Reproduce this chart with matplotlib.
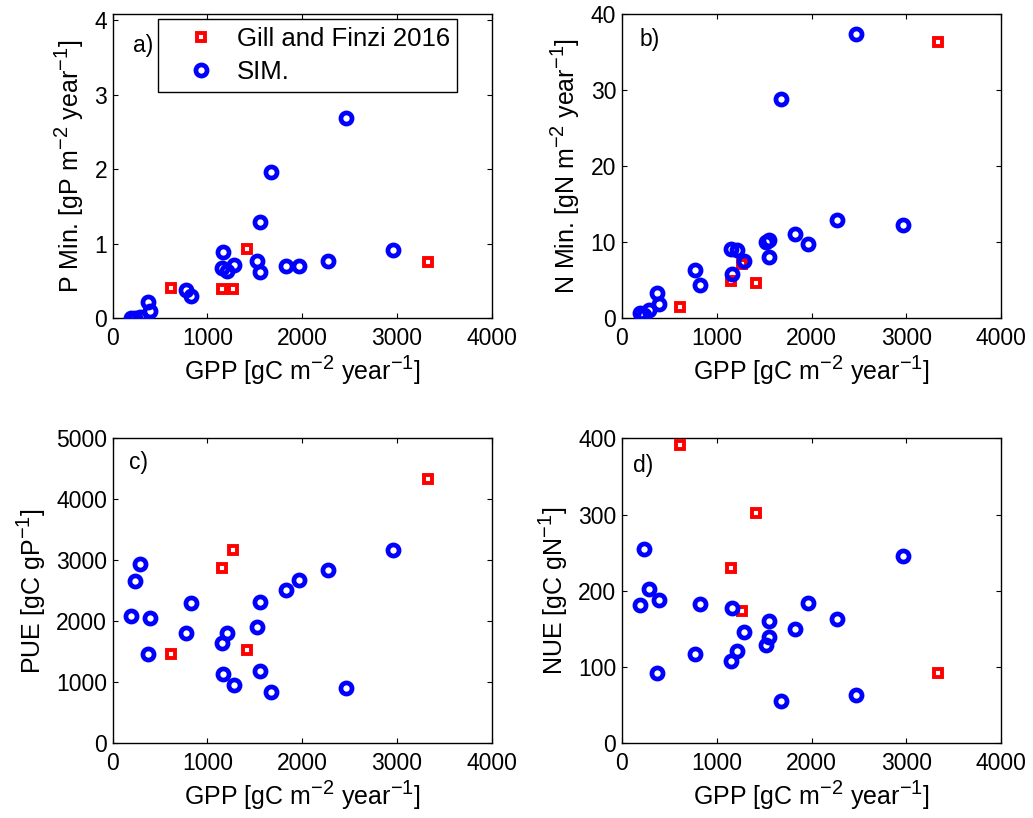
import matplotlib
matplotlib.use("Agg")
import matplotlib.pyplot as plt

try:
    import matplotlib._mathtext as _mt
    _mt.SHRINK_FACTOR = 0.8
except Exception:
    pass

plt.rcParams['font.family'] = ['Liberation Sans', 'DejaVu Sans']
plt.rcParams['mathtext.fontset'] = 'custom'
plt.rcParams['mathtext.rm'] = 'Liberation Sans'
plt.rcParams['mathtext.it'] = 'Liberation Sans:italic'
plt.rcParams['mathtext.bf'] = 'Liberation Sans:bold'

# ---- data: simulation (SIM.) ----
sim_gpp = [190, 232, 283, 370, 394, 770, 825, 1152, 1160, 1210, 1285,
           1520, 1550, 1550, 1675, 1826, 1965, 2270, 2466, 2960]
sim_pmin = [0.0, 0.01, 0.02, 0.215, 0.10, 0.38, 0.30, 0.68, 0.89, 0.635, 0.71,
            0.774, 0.626, 1.29, 1.955, 0.70, 0.705, 0.77, 2.69, 0.91]
sim_nmin = [0.66, 0.44, 1.1, 3.38, 1.89, 6.37, 4.40, 9.1, 5.8, 8.92, 7.56,
            10.02, 10.33, 8.09, 28.8, 11.12, 9.76, 12.92, 37.4, 12.3]
sim_pue = [2093, 2661, 2945, 1459, 2060, 1803, 2295, 1639, 1137, 1809, 962,
           1913, 2317, 1191, 836, 2514, 2678, 2836, 907, 3164]
sim_nue = [182, 255, 202, 92, 188, 117, 183, 108, 177, 121, 146,
           129, 161, 139, 55.5, 150, 184.5, 163, 64, 245]

# ---- data: Gill and Finzi 2016 ----
obs_gpp = [615, 1155, 1272, 1416, 3330]
obs_pmin = [0.41, 0.39, 0.39, 0.926, 0.756]
obs_nmin = [1.54, 4.84, 7.16, 4.62, 36.26]
obs_pue = [1459, 2880, 3164, 1525, 4328]
obs_nue = [391, 230, 174, 302, 92]

panel_letters = ['a)', 'b)', 'c)', 'd)']
ylabels = ['P Min. [gP m$^{-2}$ year$^{-1}$]',
           'N Min. [gN m$^{-2}$ year$^{-1}$]',
           'PUE [gC gP$^{-1}$]',
           'NUE [gC gN$^{-1}$]']
xlabel = 'GPP [gC m$^{-2}$ year$^{-1}$]'
ylims = [(0, 4.08), (0, 40), (0, 5000), (0, 400)]
yticks = [[0, 1, 2, 3, 4], [0, 10, 20, 30, 40],
          [0, 1000, 2000, 3000, 4000, 5000], [0, 100, 200, 300, 400]]
xticks = [0, 1000, 2000, 3000, 4000]

W, H = 1033, 818
fig = plt.figure(figsize=(W / 100, H / 100), dpi=100)

def rect(l, r, t, b):
    return [l / W, (H - b) / H, (r - l) / W, (b - t) / H]

rects = [rect(112.7, 491.7, 14, 318.3), rect(621.7, 1001.3, 14, 318.3),
         rect(112.7, 491.7, 438.3, 743.3), rect(621.7, 1001.3, 438.3, 743.3)]
letter_pos = [(0.054, 0.898), (0.048, 0.915), (0.043, 0.922), (0.03, 0.912)]

obs_y = [obs_pmin, obs_nmin, obs_pue, obs_nue]
sim_y = [sim_pmin, sim_nmin, sim_pue, sim_nue]

FS_TICK = 16.5
FS_LAB = 18
FS_LEG = 18.5
for i in range(4):
    ax = fig.add_axes(rects[i])
    ax.plot(obs_gpp, obs_y[i], linestyle='none', marker='s', markersize=6.2,
            markeredgewidth=2.8, markeredgecolor=(1, 0, 0),
            markerfacecolor='none', label='Gill and Finzi 2016', zorder=3)
    ax.plot(sim_gpp, sim_y[i], linestyle='none', marker='o', markersize=8.0,
            markeredgewidth=3.4, markeredgecolor=(0, 0, 1),
            markerfacecolor='none', label='SIM.', zorder=4)
    ax.set_xlim(0, 4000)
    ax.set_ylim(*ylims[i])
    ax.set_xticks(xticks)
    ax.set_yticks(yticks[i])
    ax.tick_params(direction='in', top=True, right=True, length=3.5,
                   width=0.8, labelsize=FS_TICK)
    ax.tick_params(axis='x', pad=6)
    ax.tick_params(axis='y', pad=4)
    for s in ax.spines.values():
        s.set_linewidth(1.0)
    ax.set_xlabel(xlabel, fontsize=FS_LAB, labelpad=3)
    ax.set_ylabel(ylabels[i], fontsize=FS_LAB, labelpad=6)
    ax.text(letter_pos[i][0], letter_pos[i][1], panel_letters[i],
            transform=ax.transAxes, fontsize=FS_TICK, ha='left', va='center')
    if i == 0:
        leg = ax.legend(loc='upper left', bbox_to_anchor=(0.120, 0.982),
                        borderaxespad=0, fontsize=FS_LEG, numpoints=1,
                        fancybox=False, framealpha=1, edgecolor='black',
                        handlelength=2.75, handletextpad=0.0,
                        borderpad=0.3, labelspacing=0.35)
        leg.get_frame().set_linewidth(1.0)

fig.savefig('out.png', dpi=100)
